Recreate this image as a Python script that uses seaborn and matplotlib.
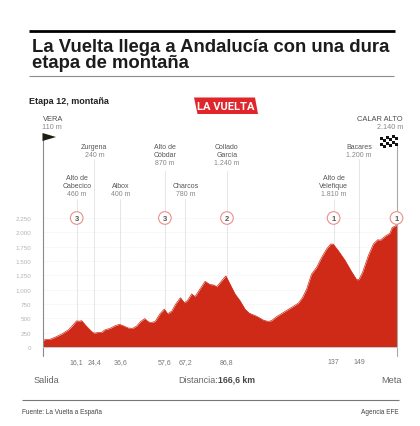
import numpy as np
import pandas as pd
import matplotlib.pyplot as plt
from matplotlib.patches import Polygon, Circle, Rectangle
from matplotlib.transforms import blended_transform_factory
import seaborn as sns

# Perfil de la etapa (km, altitud en m)
km = [0, 0.3, 1.2, 3.5, 5.9, 9, 12.2, 13.7, 16, 17.3, 18.4, 20.5, 22.7, 24.2, 26.3, 27.8, 29.4, 31.8,
      34.1, 36.2, 38, 40.4, 42.4, 44.3, 46.2, 48.1, 49.8, 51, 53, 55.3, 57.3, 58.9, 60.8, 62.7, 64.9,
      66.8, 68.2, 70.2, 71.8, 74.1, 76.5, 78.8, 80.7, 82, 84.3, 86.3, 88.2, 90.6, 92.9, 95.3, 97.3,
      100.8, 103.9, 106.2, 107.8, 110.2, 114.1, 117.2, 120.4, 122.4, 124.3, 126.6, 129, 131.4, 133.7,
      135.6, 136.8, 139.2, 142.3, 145.5, 147.8, 148.9, 150.6, 153.3, 155.7, 157.7, 159.1, 161.2,
      163.5, 164.6, 166.3, 166.6]
alt = [90, 110, 130, 135, 170, 225, 300, 355, 455, 450, 460, 370, 285, 240, 255, 255, 300, 325,
       370, 395, 370, 330, 325, 365, 445, 495, 440, 425, 445, 580, 660, 580, 625, 750, 860,
       770, 810, 925, 880, 1010, 1145, 1090, 1080, 1050, 1155, 1240, 1100, 925, 810, 660, 590,
       535, 470, 445, 460, 530, 620, 690, 765, 865, 1010, 1270, 1390, 1565, 1710,
       1795, 1795, 1680, 1515, 1310, 1175, 1175, 1300, 1590, 1795, 1870, 1865, 1930,
       1985, 2085, 2115, 2130]

y_ticks = [0, 250, 500, 750, 1000, 1250, 1500, 1750, 2000, 2250]
y_labels = ['0', '250', '500', '750', '1.000', '1.250', '1.500', '1.750', '2.000', '2.250']

# Puntos de paso
pass_km = [16.1, 24.4, 36.6, 57.6, 67.2, 86.8, 137, 149]
pass_km_labels = ['16,1', '24,4', '36,6', '57,6', '67,2', '86,8', '137', '149']
pass_names = ['Alto de\nCabecico', 'Zurgena', 'Albox', 'Alto de\nCóbdar', 'Charcos',
              'Collado\nGarcía', 'Alto de\nVelefique', 'Bacares']
pass_alt = ['460 m', '240 m', '400 m', '870 m', '780 m', '1.240 m', '1.810 m', '1.200 m']

cat_km = [16.1, 57.6, 86.8, 137, 166.6]
cat_labels = ['3', '3', '2', '1', '1']

RED = '#cf2a17'
W, H = 420, 427

sns.set_theme(style='white')
plt.rcParams['font.family'] = ['Liberation Sans', 'DejaVu Sans']

df = pd.DataFrame({'km': km, 'alt': alt})

fig = plt.figure(figsize=(W / 100, H / 100), dpi=100, facecolor='white')

# capa en pixeles para textos y adornos
ov = fig.add_axes([0, 0, 1, 1], zorder=3)
ov.set_xlim(0, W)
ov.set_ylim(H, 0)
ov.axis('off')
ov.patch.set_alpha(0)

# ejes del perfil
x0, x1, y0, y1 = 42.5, 396.5, 348, 219
ax = fig.add_axes([x0 / W, 1 - y0 / H, (x1 - x0) / W, (y0 - y1) / H], zorder=2)
ax.patch.set_alpha(0)
sns.lineplot(data=df, x='km', y='alt', color=RED, linewidth=0.5, ax=ax, errorbar=None)
ax.fill_between(km, alt, 0, color=RED, linewidth=0, zorder=2)
ax.set_xlim(0, 166.6)
ax.set_ylim(0, 2250)
ax.set_xlabel('')
ax.set_ylabel('')
ax.set_xticks([])
ax.set_yticks(y_ticks)
ax.set_yticklabels(y_labels, fontsize=4.5, color='#b5b5b5')
ax.tick_params(axis='y', length=0, pad=8.2)
ax.grid(axis='y', color='#ececec', linewidth=0.5, linestyle=(0, (1, 1)))
ax.set_axisbelow(True)
sns.despine(ax=ax, left=True, bottom=True, top=True, right=True)

# x en km, y en pixeles de figura
tr = blended_transform_factory(ax.transData, ov.transData)

label_bottom = [200, 160, 200, 172, 200, 172, 200, 160]
name_y = [179, 148, 187, 148, 187, 148, 179, 148]
for k, lab, name, a, yb, ny in zip(pass_km, pass_km_labels, pass_names, pass_alt, label_bottom, name_y):
    # la guia va en los ejes del perfil para quedar detras del relleno rojo
    ax.plot([k, k], [yb, 348], transform=tr, color='#e2e2e2', lw=0.6, zorder=1, clip_on=False)
    ov.text(k, 363, lab, transform=tr, ha='center', va='center', fontsize=5, color='#777777')
    lines = name.split('\n')
    for i, line in enumerate(lines):
        ov.text(k, ny + i * 7.7, line, transform=tr, ha='center', va='center', fontsize=5,
                color='#555555', fontweight='medium')
    ov.text(k, ny + len(lines) * 7.7, a, transform=tr, ha='center', va='center', fontsize=5, color='#888888')

# postes de salida y meta
ov.plot([x0, x0], [135, 357], color='#8a8a8a', lw=0.8, zorder=4)
ov.plot([x1, x1], [145, 357], color='#a8a8a8', lw=0.8, zorder=1)
ov.plot([x0, x1], [348.3, 348.3], color='#c9c9c9', lw=0.7, zorder=4)

# bandera de salida
ov.add_patch(Polygon([(42.5, 134), (42.5, 142), (56, 138)], closed=True, color='#1d1d10', lw=0, zorder=5))

# bandera a cuadros
n_rows, n_cols = 4, 6
for r in range(n_rows):
    for c in range(n_cols):
        if (r + c) % 2 == 0:
            bx = 380 + c * 2.9
            by = 138 + r * 2.9 - c * 0.55
            ov.add_patch(Rectangle((bx, by), 3.1, 3.1, color='#111111', lw=0, zorder=5))

# circulos de categoria
for k, lab in zip(cat_km, cat_labels):
    px = x0 + k / 166.6 * (x1 - x0)
    ov.add_patch(Circle((px, 219), 6.3, facecolor='white', edgecolor='#ec8f8a', lw=0.8, zorder=6))
    ov.text(px, 219.2, lab, ha='center', va='center', fontsize=5.5, fontweight='bold', color='#555555', zorder=7)

# cabecera
ov.plot([29, 394.5], [32, 32], color='black', lw=2.0, solid_capstyle='butt')
ov.plot([29, 394], [76.5, 76.5], color='#8c8c8c', lw=0.8, solid_capstyle='butt')
ov.text(31.5, 47.5, 'La Vuelta llega a Andalucía con una dura', fontsize=13.35, fontweight='bold',
        color='#1c1c1c', va='center', ha='left')
ov.text(31.5, 64, 'etapa de montaña', fontsize=13.35, fontweight='bold', color='#1c1c1c', va='center', ha='left')
ov.text(29, 101, 'Etapa 12, montaña', fontsize=6.5, fontweight='bold', color='#222222', va='center', ha='left')

# logo
ov.add_patch(Polygon([(194, 98.5), (255, 98.5), (258, 115), (197.5, 115)], closed=True, color='#e0252b', lw=0))
ov.text(226, 107, 'LA VUELTA', fontsize=8.0, fontweight='bold', color='white', ha='center', va='center',
        family=['Roboto', 'DejaVu Sans'])

# salida y meta
ov.text(42.5, 119.5, 'VERA', fontsize=5.4, color='#4d4d4d', ha='left', va='center')
ov.text(42.5, 127.5, '110 m', fontsize=5.2, color='#888888', ha='left', va='center')
ov.text(403, 119.5, 'CALAR ALTO', fontsize=5.4, color='#4d4d4d', ha='right', va='center')
ov.text(403, 127.5, '2.140 m', fontsize=5.2, color='#888888', ha='right', va='center')

# pie
ov.text(34, 380.5, 'Salida', fontsize=6.7, color='#666666', ha='left', va='center')
ov.text(402, 380.5, 'Meta', fontsize=6.7, color='#666666', ha='right', va='center')
ov.text(178.5, 380.5, 'Distancia:', fontsize=6.5, color='#666666', ha='left', va='center')
ov.text(218.5, 380.5, '166,6 km', fontsize=6.2, color='#444444', fontweight='bold', ha='left', va='center')
ov.plot([22, 399], [401, 401], color='#777777', lw=0.8, solid_capstyle='butt')
ov.text(22, 412.5, 'Fuente: La Vuelta a España', fontsize=4.7, color='#444444', ha='left', va='center')
ov.text(399, 412.5, 'Agencia EFE', fontsize=4.7, color='#444444', ha='right', va='center')

fig.savefig('out.png', dpi=100)
